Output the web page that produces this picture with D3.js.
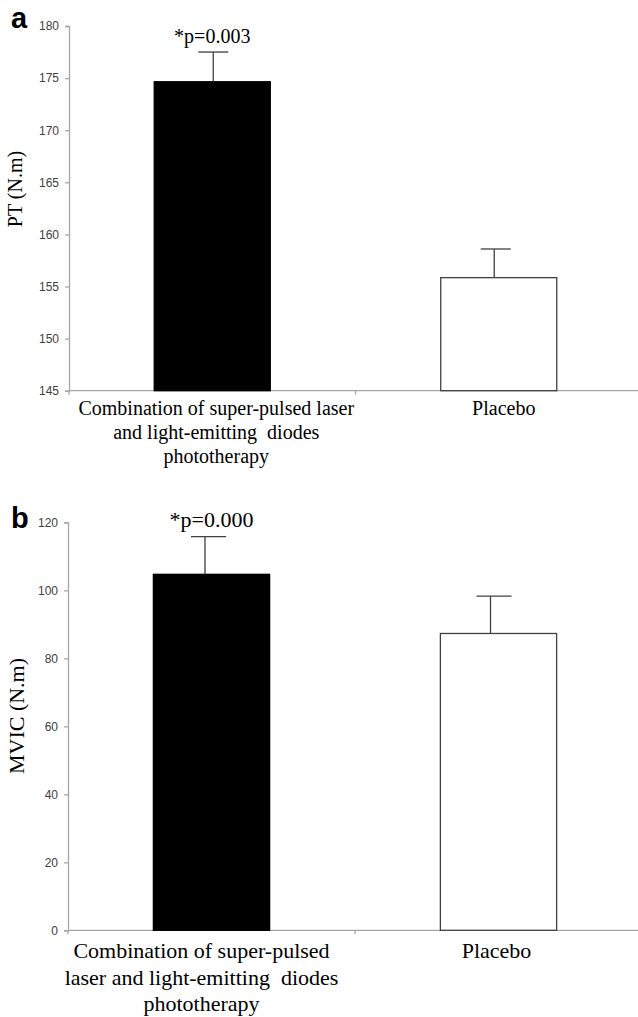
<!DOCTYPE html>
<html><head><meta charset="utf-8">
<script src="https://cdn.jsdelivr.net/npm/d3@7"></script>
<style>body{margin:0;background:#fff} text{white-space:pre}</style></head>
<body>
<svg id="c" width="638" height="1017"></svg>
<script>
// ---- data ----
const categories = ["Combination of super-pulsed laser and light-emitting diodes phototherapy", "Placebo"];
const labelLinesA = [["Combination of super-pulsed laser", "and light-emitting  diodes", "phototherapy"], ["Placebo"]];
const labelLinesB = [["Combination of super-pulsed", "laser and light-emitting  diodes", "phototherapy"], ["Placebo"]];
const ptMeans = [174.65, 155.85];
const ptErrors = [2.85, 2.75];
const mvicMeans = [104.7, 87.3];
const mvicErrors = [11.1, 11.0];
const ptTicks = [145, 150, 155, 160, 165, 170, 175, 180];
const mvicTicks = [0, 20, 40, 60, 80, 100, 120];
const ptDomain = [145, 180];
const mvicDomain = [0, 120];
const ptPValue = "*p=0.003";
const mvicPValue = "*p=0.000";
const barFills = ["#000000", "#ffffff"];

const svg = d3.select("#c");
const AXIS = "#a6a6a6", DARK = "#404040";

function panel(o) {
  const g = svg.append("g");
  const x = d3.scaleBand().domain(categories).range([o.x0, o.x1]).paddingInner(0.595).paddingOuter(0.2975);
  const y = d3.scaleLinear().domain(o.domain).range([o.yb, o.yt]);

  // y axis
  const ya = g.append("g").attr("transform", `translate(${o.x0},0)`)
    .call(d3.axisLeft(y).tickValues(o.ticks).tickSize(4).tickPadding(6));
  ya.select(".domain").attr("stroke", AXIS).attr("stroke-width", 1.3);
  ya.selectAll(".tick line").attr("stroke", AXIS).attr("stroke-width", 1.3);
  ya.selectAll(".tick text").attr("fill", DARK).attr("font-family", "Liberation Sans, Arial, sans-serif")
    .attr("font-size", 12);

  // x axis line + boundary ticks
  g.append("line").attr("x1", o.x0).attr("x2", o.x1).attr("y1", y(o.domain[0])).attr("y2", y(o.domain[0]))
    .attr("stroke", AXIS).attr("stroke-width", 1.3);
  const step = x.step();
  const bounds = [o.x0, o.x0 + step, o.x1];
  g.selectAll(".xt").data(bounds).join("line")
    .attr("x1", d => d).attr("x2", d => d)
    .attr("y1", y(o.domain[0])).attr("y2", y(o.domain[0]) + 4)
    .attr("stroke", AXIS).attr("stroke-width", 1.3);

  // bars
  g.selectAll(".bar").data(o.means).join("rect")
    .attr("x", (d, i) => x(categories[i]))
    .attr("width", x.bandwidth())
    .attr("y", d => y(d))
    .attr("height", d => y(o.domain[0]) - y(d))
    .attr("fill", (d, i) => barFills[i])
    .attr("stroke", (d, i) => i === 0 ? "#000" : DARK)
    .attr("stroke-width", 1.3);

  // error bars
  o.means.forEach((m, i) => {
    const cx = x(categories[i]) + x.bandwidth() / 2 + o.errShift[i];
    g.append("line").attr("x1", cx).attr("x2", cx).attr("y1", y(m)).attr("y2", y(m + o.errs[i]))
      .attr("stroke", DARK).attr("stroke-width", 1.3);
    g.append("line").attr("x1", cx - o.cap / 2 + o.capShift[i]).attr("x2", cx + o.cap / 2 + o.capShift[i])
      .attr("y1", y(m + o.errs[i])).attr("y2", y(m + o.errs[i]))
      .attr("stroke", DARK).attr("stroke-width", 1.3);
  });

  // p-value
  g.append("text").attr("x", x(categories[0]) + x.bandwidth() / 2).attr("y", o.pY)
    .attr("text-anchor", "middle").attr("font-family", "Liberation Serif, Times New Roman, serif")
    .attr("font-size", o.fs).attr("fill", "#000").text(o.p);

  // category labels
  o.lines.forEach((lines, i) => {
    const cx = x(categories[i]) + x.bandwidth() / 2 + o.labShift[i];
    lines.forEach((t, j) => {
      g.append("text").attr("x", cx).attr("y", o.labY + o.lineOff[j])
        .attr("text-anchor", "middle").attr("font-family", "Liberation Serif, Times New Roman, serif")
        .attr("font-size", o.fs).attr("fill", "#000").text(t);
    });
  });

  // y title
  g.append("text").attr("transform", `translate(${o.titleX},${o.titleY}) rotate(-90)`)
    .attr("text-anchor", "middle").attr("font-family", "Liberation Serif, Times New Roman, serif")
    .attr("font-size", o.titleFs).attr("fill", "#000").text(o.title);

  // panel letter
  g.append("text").attr("x", 11).attr("y", o.letterY)
    .attr("font-family", "Liberation Sans, Arial, sans-serif").attr("font-weight", "bold")
    .attr("font-size", 29).attr("fill", "#000").text(o.letter);
}

panel({
  x0: 69, x1: 642, yb: 390.7, yt: 26, domain: ptDomain, ticks: ptTicks,
  means: ptMeans, errs: ptErrors, cap: 30, errShift: [1, -4.5], capShift: [0, 1.5],
  p: ptPValue, pY: 43, fs: 20, lines: labelLinesA, labY: 415, lineOff: [0, 23.5, 48], labShift: [4, 5],
  title: "PT (N.m)", titleX: 22, titleY: 189, titleFs: 20, letter: "a", letterY: 28
});
panel({
  x0: 68, x1: 642, yb: 930.3, yt: 522.3, domain: mvicDomain, ticks: mvicTicks,
  means: mvicMeans, errs: mvicErrors, cap: 35, errShift: [-6.5, -8], capShift: [3.5, 3.5],
  p: mvicPValue, pY: 527, fs: 22, lines: labelLinesB, labY: 958, lineOff: [0, 26.5, 53], labShift: [-10, -2],
  title: "MVIC (N.m)", titleX: 24, titleY: 716, titleFs: 22, letter: "b", letterY: 528
});
</script>
</body></html>
